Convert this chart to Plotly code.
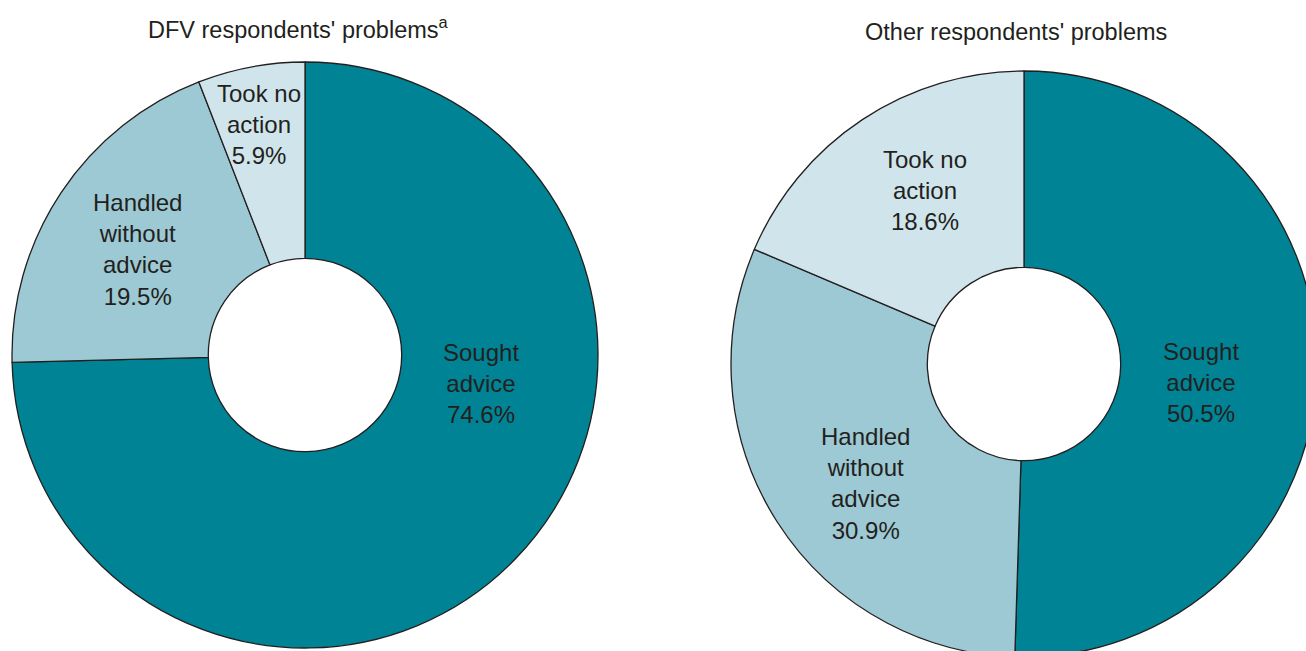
import plotly.graph_objects as go

# ---- data ----
categories = ["Sought advice", "Handled without advice", "Took no action"]
category_lines = ["Sought<br>advice", "Handled<br>without<br>advice", "Took no<br>action"]
dfv_values = [74.6, 19.5, 5.9]
other_values = [50.5, 30.9, 18.6]
titles = ["DFV respondents' problems<sup>a</sup>", "Other respondents' problems"]

# ---- styling / layout ----
colors = ["#008394", "#9CC9D3", "#CFE5EB"]
W, H = 1330, 672
FONT = "Liberation Sans, Arial, sans-serif"
TXT = "#231F20"

def px_dom(cx, cy, r):
    return dict(x=[(cx - r) / W, (cx + r) / W], y=[1 - (cy + r) / H, 1 - (cy - r) / H])

pies = [
    dict(values=dfv_values, dom=px_dom(305, 355, 293),
         label_pos=[(481, 383), (137, 249), (259, 124)], title_pos=(298, 28)),
    dict(values=other_values, dom=px_dom(1024, 364, 293),
         label_pos=[(1201, 382), (865, 483), (925, 190)], title_pos=(1016, 32)),
]

fig = go.Figure()
annotations = []
for i, p in enumerate(pies):
    fig.add_trace(go.Pie(
        labels=categories, values=p["values"], sort=False, direction="clockwise",
        rotation=0, hole=0.33, domain=p["dom"], textinfo="none", hoverinfo="label+percent",
        marker=dict(colors=colors, line=dict(color="#231F20", width=1.3)),
        showlegend=False,
    ))
    for j, (x, y) in enumerate(p["label_pos"]):
        annotations.append(dict(
            x=x / W, y=1 - y / H, xref="paper", yref="paper", xanchor="center", yanchor="middle",
            text=f"{category_lines[j]}<br>{p['values'][j]:.1f}%", showarrow=False,
            font=dict(family=FONT, size=24, color=TXT), align="center",
        ))
    tx, ty = p["title_pos"]
    annotations.append(dict(
        x=tx / W, y=1 - ty / H, xref="paper", yref="paper", xanchor="center", yanchor="middle",
        text=titles[i], showarrow=False, font=dict(family=FONT, size=23.5, color=TXT),
    ))

fig.update_layout(
    width=W, height=H, autosize=False,
    margin=dict(l=0, r=0, t=0, b=0),
    paper_bgcolor="white", plot_bgcolor="white",
    annotations=annotations,
    font=dict(family=FONT),
)

fig.write_html(
    "out.html",
    config={"displayModeBar": False},
    post_script="document.body.style.margin='0';document.body.style.overflow='hidden';"
                "document.documentElement.style.overflow='hidden';",
)
